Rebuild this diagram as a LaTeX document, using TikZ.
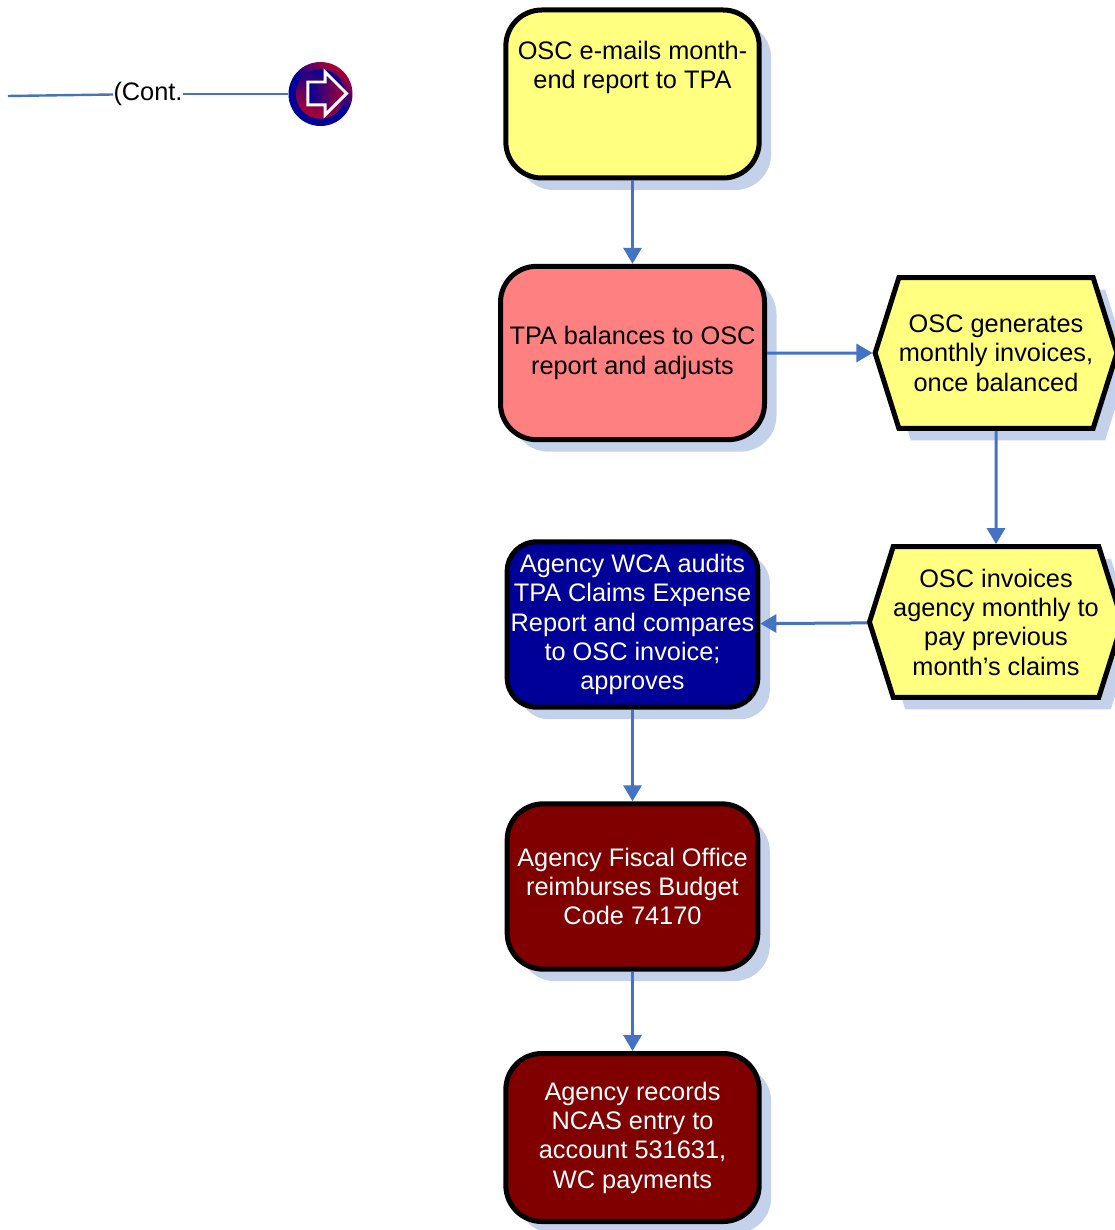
\documentclass[tikz,border=0pt]{standalone}
\usepackage{fontspec}
\setmainfont{Liberation Sans}
\usetikzlibrary{positioning,shapes.symbols,shapes.arrows,shadows,arrows.meta}

\definecolor{flowBlue}{HTML}{4472C4}
\definecolor{shadowBlue}{HTML}{C3D2EA}
\definecolor{paleYellow}{HTML}{FFFF80}
\definecolor{salmon}{HTML}{FF8080}
\definecolor{navy}{HTML}{000099}
\definecolor{maroon}{HTML}{800000}
\definecolor{crimson}{HTML}{B00030}

\begin{document}
\begin{tikzpicture}[%
    x=0.75pt,
    y=-0.75pt,
    step box/.style={%
        draw=black,
        line width=3.75pt,
        rounded corners=27pt,
        align=center,
        inner sep=0pt,
        font=\fontsize{19}{22}\selectfont,
        copy shadow={draw=none,fill=shadowBlue,shadow xshift=9pt,shadow yshift=-9pt}
    },
    oscBox/.style={%
        step box,
        fill=paleYellow,
        minimum width=190pt,
        minimum height=126pt
    },
    tpaBox/.style={%
        step box,
        fill=salmon,
        minimum width=198pt,
        minimum height=130pt
    },
    auditBox/.style={%
        step box,
        fill=navy,
        text=white,
        rounded corners=22pt,
        minimum width=188pt,
        minimum height=124pt
    },
    agencyBox/.style={%
        step box,
        fill=maroon,
        text=white,
        minimum width=188pt,
        minimum height=124pt
    },
    invoice/.style={%
        draw=black,
        fill=paleYellow,
        line width=3.75pt,
        shape=signal,
        signal to=west and east,
        signal pointer angle=145,
        align=center,
        inner sep=0pt,
        font=\fontsize{19}{22}\selectfont,
        minimum width=172pt,
        minimum height=113pt,
        copy shadow={draw=none,fill=shadowBlue,shadow xshift=9pt,shadow yshift=-9pt}
    },
    flow/.style={%
        draw=flowBlue,
        line width=2.25pt,
        -{Triangle[width=13.5pt,length=12pt]}
    },
    plainLine/.style={%
        draw=flowBlue,
        line width=1.8pt
    }
]

\useasboundingbox (0,0) rectangle (1114,1230);

% Main column
    \node[oscBox] (report) at (632.5,94) {OSC e-mails month-\\end report to TPA\\[22pt]};
    \node[tpaBox] (balance) at (632.5,353) {TPA balances to OSC\\report and adjusts};
    \node[auditBox] (audit) at (632.5,624.5) {Agency WCA audits\\TPA Claims Expense\\Report and compares\\to OSC invoice;\\approves};
    \node[agencyBox] (fiscal) at (632.5,886.5) {Agency Fiscal Office\\reimburses Budget\\Code 74170};
    \node[agencyBox,minimum width=190pt,minimum height=126pt] (records) at (632.5,1137.5) {Agency records\\NCAS entry to\\account 531631,\\WC payments};

% Invoices
    \node[invoice] (generate) at (996,353) {OSC generates\\monthly invoices,\\once balanced};
    \node[invoice] (invoices) at (996,622) {OSC invoices\\agency monthly to\\pay previous\\month’s claims};

% Continuation
    \coordinate (lineStart) at (8,96);
    \node[inner sep=0pt,font=\fontsize{19}{22}\selectfont] (cont) at (148,94) {(Cont.};
    \node[circle,minimum size=48pt,inner sep=0pt,shading=axis,left color=crimson,right color=navy,middle color=navy,shading angle=-35] (goOuter) at (320.5,94) {};
    \node[circle,minimum size=37pt,inner sep=0pt,shading=axis,left color=navy,right color=crimson,shading angle=-20] (goInner) at (320.5,94) {};
    \node[single arrow,draw=white,line width=2.2pt,shading=axis,left color=navy,right color=crimson,inner sep=7.5pt,single arrow head extend=7.5pt,minimum height=29pt] (goArrow) at (321.5,93.5) {};

% Arrows
\draw[plainLine] (lineStart) -- (cont);
\draw[plainLine] (cont) -- (goOuter);

\draw[flow] (report) -- (balance);
\draw[flow] (balance) -- (generate);
\draw[flow] (generate) -- (invoices);
\draw[flow] (invoices) -- (audit);
\draw[flow] (audit) -- (fiscal);
\draw[flow] (fiscal) -- (records);

\end{tikzpicture}
\end{document}
